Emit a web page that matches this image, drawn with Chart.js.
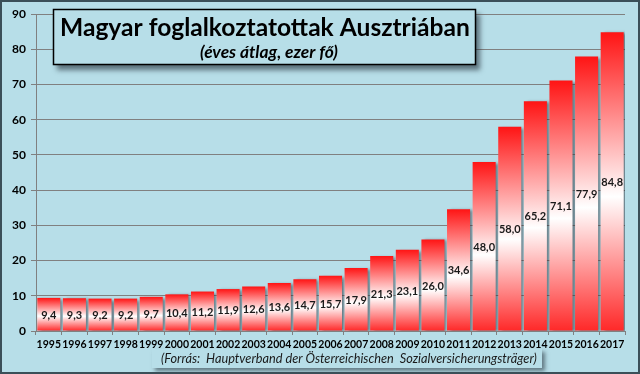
<!DOCTYPE html>
<html><head><meta charset="utf-8">
<script src="https://cdn.jsdelivr.net/npm/chart.js@4/dist/chart.umd.min.js"></script>
<style>html,body{margin:0;padding:0;background:#b7dee8;}#wrap{width:640px;height:374px;}</style>
</head><body><div id="wrap"><canvas id="c" width="640" height="374"></canvas></div>
<script>
const years = ['1995','1996','1997','1998','1999','2000','2001','2002','2003','2004','2005','2006','2007','2008','2009','2010','2011','2012','2013','2014','2015','2016','2017'];
const employed = [9.4,9.3,9.2,9.2,9.7,10.4,11.2,11.9,12.6,13.6,14.7,15.7,17.9,21.3,23.1,26.0,34.6,48.0,58.0,65.2,71.1,77.9,84.8];
const yTicks = [0,10,20,30,40,50,60,70,80,90];
const titleText = 'Magyar foglalkoztatottak Ausztriában';
const subtitleText = '(éves átlag, ezer fő)';
const sourceText = '(Forrás:  Hauptverband der Österreichischen  Sozialversicherungsträger)';

const BG = '#b7dee8';
const FONT = 'Lato, "Open Sans", sans-serif';

function barGradient(ctx) {
  const chart = ctx.chart;
  if (!chart.chartArea || ctx.type !== 'data') return '#ff3030';
  const y = chart.scales.y;
  const top = y.getPixelForValue(ctx.raw);
  const base = y.getPixelForValue(0);
  const g = chart.ctx.createLinearGradient(0, top, 0, base);
  g.addColorStop(0, '#ff1414');
  g.addColorStop(0.55, '#ffffff');
  g.addColorStop(1, '#ff2828');
  return g;
}

function fitFont(c, style, text, target, base) {
  c.font = style + ' ' + base + 'px ' + FONT;
  const w = c.measureText(text).width;
  const fs = base * target / w;
  c.font = style + ' ' + fs.toFixed(2) + 'px ' + FONT;
}

const bgPlugin = {
  id: 'bg',
  beforeDraw(chart) {
    const c = chart.ctx;
    c.save();
    c.fillStyle = BG;
    c.fillRect(0, 0, chart.width, chart.height);
    c.restore();
  },
  beforeDatasetsDraw(chart) {
    const c = chart.ctx;
    c.save();
    c.shadowColor = 'rgba(40,50,60,0.55)';
    c.shadowOffsetX = 3;
    c.shadowOffsetY = 1;
    c.shadowBlur = 3;
  },
  afterDatasetsDraw(chart) {
    const c = chart.ctx;
    c.restore();
    const meta = chart.getDatasetMeta(0);
    c.save();
    c.font = 'bold 11px ' + FONT;
    c.fillStyle = '#1a1a1a';
    c.textAlign = 'center';
    c.textBaseline = 'middle';
    meta.data.forEach((bar, i) => {
      const v = employed[i];
      const mid = (bar.y + bar.base) / 2;
      c.fillText(v.toFixed(1).replace('.', ','), bar.x, mid + 1);
    });
    c.restore();
  },
  afterDraw(chart) {
    const c = chart.ctx;
    // title box
    c.save();
    c.shadowColor = 'rgba(30,40,50,0.6)';
    c.shadowOffsetX = 4;
    c.shadowOffsetY = 5;
    c.shadowBlur = 5;
    c.fillStyle = BG;
    c.fillRect(53, 9, 423, 56);
    c.restore();
    c.save();
    c.strokeStyle = '#000';
    c.lineWidth = 1.5;
    c.strokeRect(53.5, 9.5, 422, 55);
    c.fillStyle = '#000';
    c.textBaseline = 'alphabetic';
    c.textAlign = 'left';
    fitFont(c, 'bold', titleText, 410, 26);
    c.fillText(titleText, 60, 36);
    fitFont(c, 'italic bold', subtitleText, 138, 13);
    c.fillText(subtitleText, 200, 58);
    c.restore();
    // source box
    c.save();
    c.shadowColor = 'rgba(30,40,50,0.55)';
    c.shadowOffsetX = 3;
    c.shadowOffsetY = 3;
    c.shadowBlur = 4;
    c.fillStyle = BG;
    c.fillRect(152, 349, 390, 19);
    c.restore();
    c.save();
    c.fillStyle = '#1a1a1a';
    c.textAlign = 'left';
    c.textBaseline = 'alphabetic';
    fitFont(c, 'italic', sourceText, 376, 12);
    c.fillText(sourceText, 161, 363);
    c.restore();
    // outer border
    c.save();
    c.strokeStyle = '#3b4f58';
    c.lineWidth = 2;
    c.strokeRect(1, 1, chart.width - 2, chart.height - 2);
    c.restore();
  }
};

new Chart(document.getElementById('c'), {
  type: 'bar',
  data: {
    labels: years,
    datasets: [{
      data: employed,
      backgroundColor: barGradient,
      borderWidth: 0,
      barPercentage: 0.9,
      categoryPercentage: 1.0
    }]
  },
  options: {
    responsive: false,
    animation: false,
    devicePixelRatio: 1,
    layout: { padding: { left: 0, right: 15, top: 14, bottom: 0 } },
    plugins: { legend: { display: false }, tooltip: { enabled: false }, title: { display: false } },
    scales: {
      x: {
        grid: { offset: true, drawOnChartArea: false, drawTicks: true, tickLength: 4, color: '#808080' },
        border: { display: true, color: '#808080', width: 1 },
        ticks: { color: '#000', font: { family: FONT, size: 10.5, weight: 'bold' }, maxRotation: 0, minRotation: 0, autoSkip: false, padding: 3 },
        afterFit(s) { s.height = 43; }
      },
      y: {
        min: 0, max: 90,
        afterBuildTicks(s) { s.ticks = yTicks.map(v => ({ value: v })); },
        grid: { color: '#808080', lineWidth: 1, drawTicks: true, tickLength: 5 },
        border: { display: true, color: '#808080', width: 1 },
        ticks: { color: '#000', font: { family: FONT, size: 12, weight: 'bold' }, padding: 5 },
        afterFit(s) { s.width = 36; }
      }
    }
  },
  plugins: [bgPlugin]
});
</script>
</body></html>
